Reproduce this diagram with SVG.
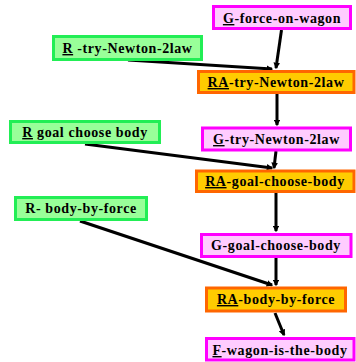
<svg xmlns="http://www.w3.org/2000/svg" width="356" height="362" viewBox="0 0 356 362">
<defs>
<marker id="ah" viewBox="0 0 10 10" refX="8" refY="5" markerWidth="2.2" markerHeight="2.2" orient="auto" markerUnits="strokeWidth">
<path d="M0,0 L10,5 L0,10 z" fill="#000"/>
</marker>
<style>
.g rect{fill:#ffccff;stroke:#ff00ff;stroke-width:3}
.ra rect{fill:#ffcc00;stroke:#ff6600;stroke-width:3}
.r rect{fill:#99ff99;stroke:#22ee55;stroke-width:3}
text{font-family:"Liberation Serif","Times New Roman",serif;font-weight:bold;font-size:14px;letter-spacing:0.6px;fill:#000;text-anchor:middle}
.u{text-decoration:underline}
#edges line{stroke:#000;stroke-width:3;marker-end:url(#ah)}
</style>
</defs>
<rect width="356" height="362" fill="#fff"/>
<g id="edges">
<line x1="281.5" y1="30" x2="276" y2="68"/>
<line x1="128" y1="60" x2="272" y2="69"/>
<line x1="277" y1="94" x2="277" y2="125"/>
<line x1="85" y1="144" x2="272" y2="168"/>
<line x1="276" y1="151" x2="274" y2="168"/>
<line x1="276" y1="193" x2="276" y2="231"/>
<line x1="80" y1="221" x2="272" y2="285"/>
<line x1="276" y1="258" x2="276" y2="285"/>
<line x1="275" y1="313" x2="284" y2="335"/>
</g>
<g id="n1" class="g"><rect x="213.5" y="6.5" width="137" height="22"/><text x="282" y="23"><tspan class="u">G</tspan>-force-on-wagon</text></g>
<g id="n2" class="r"><rect x="53.5" y="36.5" width="148" height="23"/><text x="127.5" y="53"><tspan class="u">R</tspan> -try-Newton-2law</text></g>
<g id="n3" class="ra"><rect x="198.5" y="71.5" width="155.5" height="21"/><text x="276" y="87"><tspan class="u">RA</tspan>-try-Newton-2law</text></g>
<g id="n4" class="r"><rect x="10.5" y="121.5" width="149" height="21"/><text x="85" y="137"><tspan class="u">R</tspan> goal choose body</text></g>
<g id="n5" class="g"><rect x="202.5" y="128" width="148" height="22"/><text x="276.5" y="144"><tspan class="u">G</tspan>-try-Newton-2law</text></g>
<g id="n6" class="ra"><rect x="196.5" y="171" width="157.5" height="20.5"/><text x="275" y="186"><tspan class="u">RA</tspan>-goal-choose-body</text></g>
<g id="n7" class="r"><rect x="15.5" y="197.5" width="131" height="22"/><text x="81" y="213">R- body-by-force</text></g>
<g id="n8" class="g"><rect x="201.5" y="234.5" width="149.5" height="22"/><text x="276" y="250">G-goal-choose-body</text></g>
<g id="n9" class="ra"><rect x="206.5" y="288" width="139" height="23"/><text x="276" y="304"><tspan class="u">RA</tspan>-body-by-force</text></g>
<g id="n10" class="g"><rect x="206.5" y="338.5" width="147.5" height="21.5"/><text x="280" y="355"><tspan class="u">F</tspan>-wagon-is-the-body</text></g>
</svg>
